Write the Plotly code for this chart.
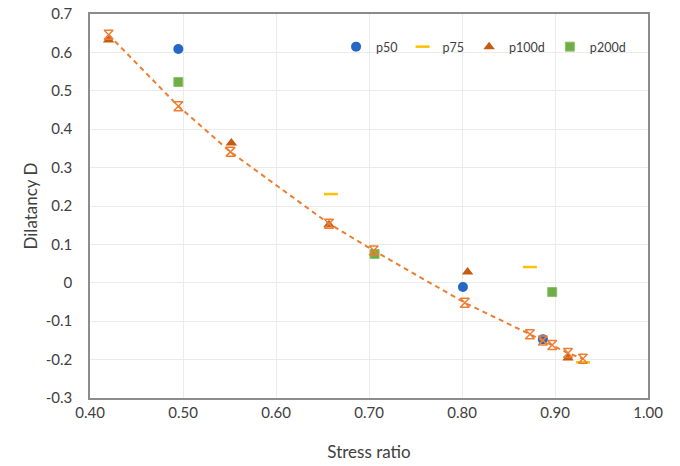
import plotly.graph_objects as go

# Data
p50_x = [0.495, 0.801, 0.887]
p50_y = [0.609, -0.011, -0.147]

p75_x = [0.659, 0.873, 0.930]
p75_y = [0.231, 0.041, -0.207]

p100d_x = [0.420, 0.552, 0.657, 0.806, 0.914]
p100d_y = [0.632, 0.364, 0.151, 0.028, -0.196]

p200d_x = [0.495, 0.706, 0.897]
p200d_y = [0.523, 0.075, -0.024]

fit_x = [0.420, 0.495, 0.551, 0.657, 0.705, 0.803, 0.873, 0.887, 0.897, 0.914, 0.930]
fit_y = [0.646, 0.460, 0.341, 0.154, 0.084, -0.052, -0.134, -0.150, -0.162, -0.183, -0.198]

x_ticks = [0.4, 0.5, 0.6, 0.7, 0.8, 0.9, 1.0]
x_tick_labels = ["0.40", "0.50", "0.60", "0.70", "0.80", "0.90", "1.00"]
y_ticks = [0.7, 0.6, 0.5, 0.4, 0.3, 0.2, 0.1, 0, -0.1, -0.2, -0.3]
y_tick_labels = ["0.7", "0.6", "0.5", "0.4", "0.3", "0.2", "0.1", "0", "-0.1", "-0.2", "-0.3"]

FONT = "Lato"

fig = go.Figure()
fig.add_trace(go.Scatter(x=p50_x, y=p50_y, mode="markers", name="p50",
                         marker=dict(symbol="circle", size=10, color="#2566C6")))
fig.add_trace(go.Scatter(x=p75_x, y=p75_y, mode="markers", name="p75",
                         marker=dict(symbol="line-ew-open", size=10, color="#FFC000",
                                     line=dict(color="#FFC000", width=2.5))))
fig.add_trace(go.Scatter(x=p100d_x, y=p100d_y, mode="markers", name="p100d",
                         marker=dict(symbol="triangle-up", size=10, color="#C55A11")))
fig.add_trace(go.Scatter(x=p200d_x, y=p200d_y, mode="markers", name="p200d",
                         marker=dict(symbol="square", size=9, color="#70AD47",
                                     line=dict(color="#8CC26A", width=1))))
fig.add_trace(go.Scatter(x=fit_x, y=fit_y, mode="lines+markers", name="fit",
                         showlegend=False,
                         line=dict(color="#ED7D31", width=2, dash="5px,4px"),
                         marker=dict(symbol="hourglass-open", size=9,
                                     line=dict(color="#ED7D31", width=1.5))))

fig.update_layout(
    width=680, height=466,
    margin=dict(l=90, r=32, t=14, b=68),
    paper_bgcolor="white", plot_bgcolor="white",
    font=dict(family=FONT, color="#404040", size=15),
    legend=dict(orientation="h", x=0.441, xanchor="left", y=0.914, yanchor="middle",
                bgcolor="rgba(0,0,0,0)", font=dict(size=12.5, color="#404040")),
    xaxis=dict(range=[0.4, 1.0], tickvals=x_ticks, ticktext=x_tick_labels,
               showgrid=True, gridcolor="#EBEBEB", gridwidth=1,
               showline=True, linecolor="#8C8C8C", linewidth=1.5, mirror=True,
               zeroline=False, ticks="", ticklen=0, automargin=False,
               title=dict(text="Stress ratio", font=dict(size=17, color="#404040"), standoff=26),
               tickfont=dict(size=15)),
    yaxis=dict(range=[-0.3, 0.7], tickvals=y_ticks, ticktext=y_tick_labels,
               showgrid=True, gridcolor="#EBEBEB", gridwidth=1,
               showline=True, linecolor="#8C8C8C", linewidth=1.5, mirror=True,
               zeroline=False, ticks="", ticklen=0, automargin=False,
               ticklabelstandoff=13,
               title=dict(text="Dilatancy D", font=dict(size=17, color="#404040"), standoff=4),
               tickfont=dict(size=15)),
)

fig.write_html("out.html", config={"displayModeBar": False},
               post_script="document.body.style.margin='0';")
